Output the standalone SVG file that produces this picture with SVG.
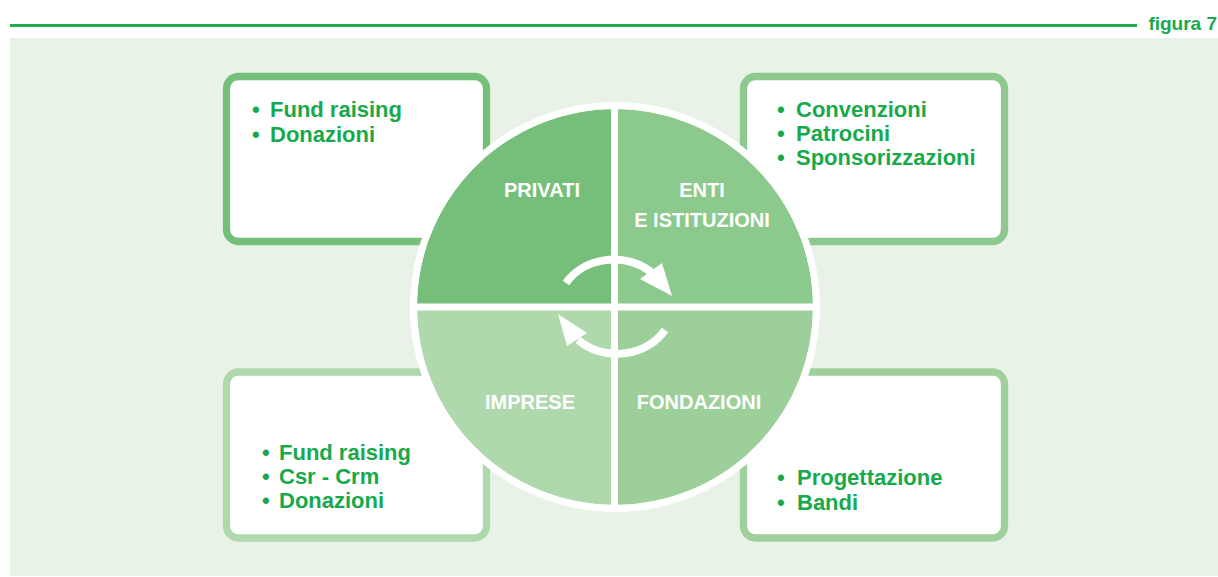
<svg xmlns="http://www.w3.org/2000/svg" width="1218" height="577" viewBox="0 0 1218 577">
  <style>
    .box { fill: #ffffff; stroke-width: 7.3; }
    .item { font-family: "Liberation Sans", Arial, sans-serif; font-weight: bold; font-size: 22px; fill: #17a94b; }
    .quad { font-family: "Liberation Sans", Arial, sans-serif; font-weight: bold; font-size: 20px; fill: #ffffff; text-anchor: middle; }
    .arc { fill: none; stroke: #ffffff; stroke-width: 8; }
    .head { fill: #ffffff; }
    .divider { stroke: #ffffff; stroke-width: 7; }
  </style>
  <rect x="0" y="0" width="1218" height="577" fill="#ffffff"/>
  <g id="header">
    <line x1="10" y1="25.5" x2="1137" y2="25.5" stroke="#22ad4e" stroke-width="3"/>
    <text x="1217" y="30" font-family="Liberation Sans, Arial, sans-serif" font-weight="bold" font-size="19" fill="#17a94b" text-anchor="end">figura 7</text>
  </g>
  <rect id="panel" x="10" y="38" width="1208" height="538" fill="#e8f2e6"/>

  <g id="box-privati">
    <rect class="box" x="226.5" y="76.5" width="260" height="165" rx="12" stroke="#76bf7a"/>
    <text class="item" x="252" y="117">•</text><text class="item" x="270" y="117">Fund raising</text>
    <text class="item" x="252" y="142">•</text><text class="item" x="270" y="142">Donazioni</text>
  </g>
  <g id="box-enti">
    <rect class="box" x="743.5" y="76.5" width="261" height="165" rx="12" stroke="#8dc88e"/>
    <text class="item" x="777" y="117">•</text><text class="item" x="796" y="117">Convenzioni</text>
    <text class="item" x="777" y="141">•</text><text class="item" x="796" y="141">Patrocini</text>
    <text class="item" x="777" y="165">•</text><text class="item" x="796" y="165">Sponsorizzazioni</text>
  </g>
  <g id="box-imprese">
    <rect class="box" x="226.5" y="372" width="260" height="166" rx="12" stroke="#b0d8ad"/>
    <text class="item" x="262" y="460">•</text><text class="item" x="279" y="460">Fund raising</text>
    <text class="item" x="262" y="484">•</text><text class="item" x="279" y="484">Csr - Crm</text>
    <text class="item" x="262" y="508">•</text><text class="item" x="279" y="508">Donazioni</text>
  </g>
  <g id="box-fondazioni">
    <rect class="box" x="743.5" y="372" width="261" height="166" rx="12" stroke="#9fd09c"/>
    <text class="item" x="777" y="485">•</text><text class="item" x="797" y="485">Progettazione</text>
    <text class="item" x="777" y="510">•</text><text class="item" x="797" y="510">Bandi</text>
  </g>

  <g id="circle">
    <g id="quad-privati">
      <path d="M615 307 L417 307 A198 198 0 0 1 615 109 Z" fill="#76bf7a"/>
      <text class="quad" x="542" y="197">PRIVATI</text>
    </g>
    <g id="quad-enti">
      <path d="M615 307 L615 109 A198 198 0 0 1 813 307 Z" fill="#8cc98c"/>
      <text class="quad" x="702" y="197">ENTI</text>
      <text class="quad" x="702" y="227">E ISTITUZIONI</text>
    </g>
    <g id="quad-imprese">
      <path d="M615 307 L615 505 A198 198 0 0 1 417 307 Z" fill="#afd8ad"/>
      <text class="quad" x="530" y="409">IMPRESE</text>
    </g>
    <g id="quad-fondazioni">
      <path d="M615 307 L813 307 A198 198 0 0 1 615 505 Z" fill="#9ccf9a"/>
      <text class="quad" x="699" y="409">FONDAZIONI</text>
    </g>
    <circle cx="615" cy="307" r="201.5" fill="none" stroke="#ffffff" stroke-width="7"/>
    <line class="divider" x1="614.5" y1="104" x2="614.5" y2="510"/>
    <line class="divider" x1="412" y1="307" x2="818" y2="307"/>
  </g>

  <g id="connectors">
    <path class="arc" d="M566 283 A56 49 0 0 1 651 272"/>
    <polygon class="head" points="640,279 662,263 672,296"/>
    <path class="arc" d="M665 330 A56 49 0 0 1 578 340"/>
    <polygon class="head" points="558,314 567,346 587,333"/>
  </g>
</svg>
